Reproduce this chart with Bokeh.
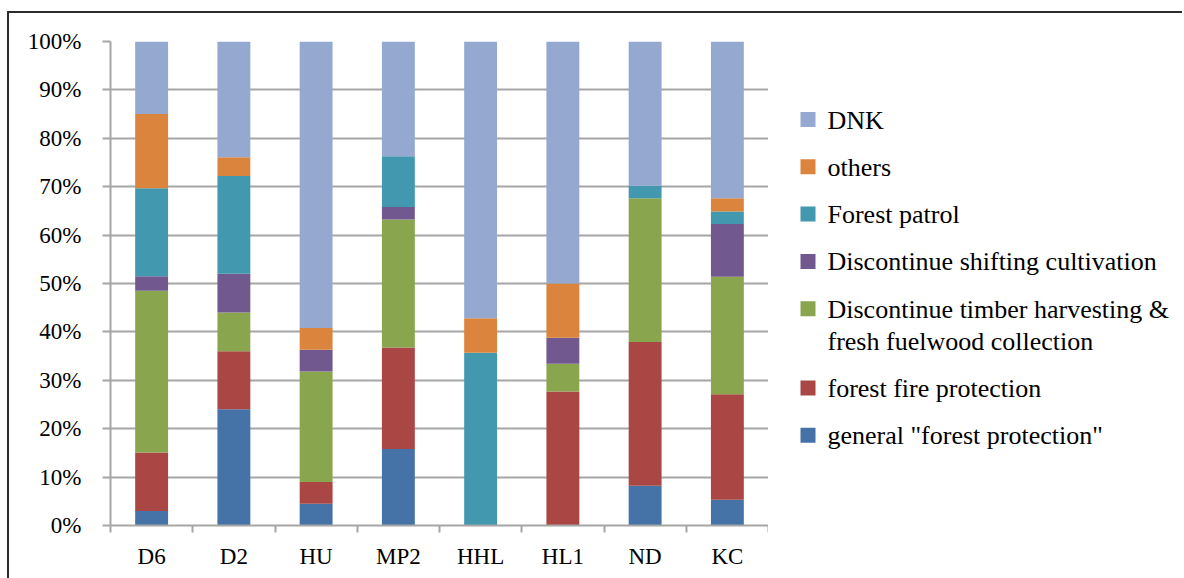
from bokeh.plotting import figure
from bokeh.models import Range1d, FixedTicker, NumeralTickFormatter, ColumnDataSource
from bokeh.layouts import row
from bokeh.embed import file_html
from bokeh.resources import INLINE
from bokeh.core.properties import value

# Share of responses (%) per site, stacked bottom to top
sites = ["D6", "D2", "HU", "MP2", "HHL", "HL1", "ND", "KC"]
general_protection = [3.0, 24.0, 4.5, 15.8, 0.0, 0.0, 8.2, 5.3]
fire_protection = [12.1, 12.0, 4.5, 21.0, 0.0, 27.7, 29.7, 21.8]
timber_fuelwood = [33.4, 8.0, 22.8, 26.4, 0.0, 5.7, 29.7, 24.3]
shifting_cultivation = [3.0, 8.0, 4.5, 2.6, 0.0, 5.4, 0.0, 10.9]
forest_patrol = [18.2, 20.2, 0.0, 10.5, 35.7, 0.0, 2.6, 2.6]
others = [15.3, 3.9, 4.5, 0.0, 7.1, 11.2, 0.0, 2.7]
dnk = [15.0, 23.9, 59.2, 23.7, 57.2, 50.0, 29.8, 32.4]

series_labels = [
    'general "forest protection"',
    "forest fire protection",
    "Discontinue timber harvesting &\nfresh fuelwood collection",
    "Discontinue shifting cultivation",
    "Forest patrol",
    "others",
    "DNK",
]
series_values = [general_protection, fire_protection, timber_fuelwood,
                 shifting_cultivation, forest_patrol, others, dnk]
colors = ["#4572A7", "#AA4643", "#89A54E", "#71588F", "#4198AF", "#DB843D", "#95A9D0"]
y_ticks = [0.0, 0.1, 0.2, 0.3, 0.4, 0.5, 0.6, 0.7, 0.8, 0.9, 1.0]

FONT = "Liberation Serif"
GRID = "#A6A6A6"

keys = [f"s{i}" for i in range(len(series_values))]
x_pos = [i + 0.5 for i in range(len(sites))]
data = {"x": x_pos}
for k, vals in zip(keys, series_values):
    data[k] = [v / 100.0 for v in vals]
source = ColumnDataSource(data)

p = figure(width=759, height=565, x_range=Range1d(0, len(sites)), y_range=Range1d(0, 1),
           toolbar_location=None, output_backend="svg",
           min_border_left=101, min_border_right=0, min_border_top=28, min_border_bottom=53)
p.outline_line_color = None
p.background_fill_color = "white"
p.border_fill_color = "white"

p.vbar_stack(keys, x="x", width=0.4, color=colors, source=source, line_color=None)

# x axis: labels at bar centres, tick marks between categories
p.xaxis.ticker = FixedTicker(ticks=x_pos, minor_ticks=list(range(len(sites) + 1)))
p.xaxis.major_label_overrides = {x: s for x, s in zip(x_pos, sites)}
p.xaxis.major_tick_line_color = None
p.xaxis.major_tick_out = 0
p.xaxis.major_tick_in = 0
p.xaxis.minor_tick_line_color = GRID
p.xaxis.minor_tick_line_width = 2
p.xaxis.minor_tick_out = 7
p.xaxis.minor_tick_in = 0
p.xaxis.major_label_standoff = 11

p.yaxis.ticker = FixedTicker(ticks=y_ticks)
p.yaxis.formatter = NumeralTickFormatter(format="0%")
p.yaxis.major_tick_line_color = GRID
p.yaxis.major_tick_line_width = 2
p.yaxis.major_tick_out = 8
p.yaxis.major_tick_in = 0
p.yaxis.minor_tick_line_color = None
p.yaxis.major_label_standoff = 21

for ax in (p.xaxis, p.yaxis):
    ax.axis_line_color = GRID
    ax.axis_line_width = 2
    ax.major_label_text_font = FONT
    ax.major_label_text_font_size = "23px"
    ax.major_label_text_color = "black"

p.xgrid.visible = False
p.ygrid.grid_line_color = GRID
p.ygrid.grid_line_width = 2

# legend panel; its frame lines up with the chart frame, ranges in page pixels
lg = figure(width=414, height=565, x_range=Range1d(768, 1182), y_range=Range1d(525, 41),
            toolbar_location=None, output_backend="svg",
            min_border_left=0, min_border_right=0, min_border_top=28, min_border_bottom=53,
            x_axis_location=None, y_axis_location=None)
lg.grid.visible = False
lg.outline_line_color = None

leg_labels = list(reversed(series_labels))
leg_colors = list(reversed(colors))
leg_y = []
extra = 0
for i, lab in enumerate(leg_labels):
    leg_y.append(119 + 47.3 * i + 32 * extra)
    extra += lab.count("\n")

lg.rect(x=[807.5] * len(leg_labels), y=leg_y, width=15, height=15,
        width_units="screen", height_units="screen", color=leg_colors, line_color=None)
lg.text(x=[827] * len(leg_labels), y=[y - 14 for y in leg_y], text=leg_labels,
        text_font=value(FONT), text_font_size="26px", text_baseline="top",
        text_align="left", text_color="black", text_line_height=1.12)

layout = row(p, lg, styles={"margin-left": "7px", "margin-top": "11px",
                            "border-top": "2px solid #2b2b2b",
                            "border-left": "2px solid #2b2b2b"})

open("out.html", "w").write(file_html(layout, INLINE))
